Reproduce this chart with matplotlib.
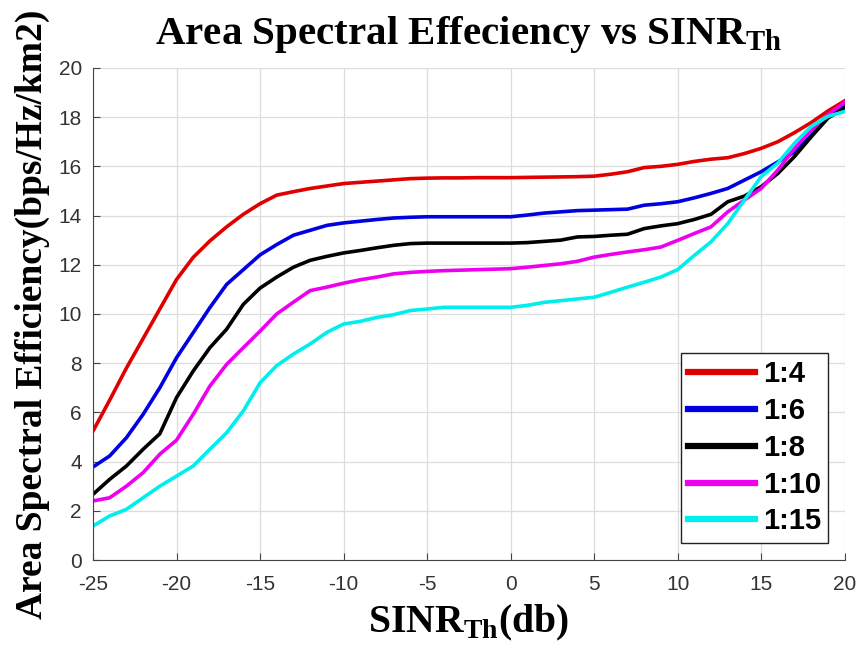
import matplotlib
matplotlib.use('Agg')
import matplotlib.pyplot as plt

plt.rcParams['mathtext.fontset'] = 'custom'
plt.rcParams['mathtext.rm'] = 'Liberation Serif:bold'
plt.rcParams['mathtext.bf'] = 'Liberation Serif:bold'
plt.rcParams['axes.unicode_minus'] = False

# SINR threshold (dB)
sinr = list(range(-25, 21))

# area spectral efficiency per ratio
ase_1_4 = [5.24, 6.5, 7.8, 9.0, 10.2, 11.4, 12.3, 12.97, 13.54, 14.05, 14.48,
           14.83, 14.97, 15.1, 15.2, 15.3, 15.35, 15.4, 15.45, 15.5, 15.52,
           15.53, 15.53, 15.54, 15.54, 15.54, 15.55, 15.56, 15.57, 15.58, 15.6,
           15.68, 15.78, 15.95, 16.0, 16.08, 16.2, 16.29, 16.35, 16.52, 16.73,
           17.0, 17.37, 17.78, 18.25, 18.66]
ase_1_6 = [3.78, 4.23, 4.97, 5.92, 7.0, 8.22, 9.24, 10.26, 11.2, 11.8, 12.4,
           12.82, 13.2, 13.4, 13.6, 13.7, 13.77, 13.84, 13.9, 13.93, 13.95,
           13.95, 13.95, 13.95, 13.95, 13.95, 14.02, 14.1, 14.15, 14.2, 14.22,
           14.24, 14.26, 14.42, 14.48, 14.56, 14.72, 14.9, 15.1, 15.44, 15.78,
           16.18, 16.58, 17.26, 18.0, 18.55]
ase_1_8 = [2.67, 3.28, 3.82, 4.5, 5.13, 6.6, 7.68, 8.63, 9.38, 10.39, 11.05,
           11.5, 11.9, 12.18, 12.34, 12.48, 12.58, 12.69, 12.79, 12.86, 12.88,
           12.88, 12.88, 12.88, 12.88, 12.88, 12.9, 12.95, 13.0, 13.13, 13.15,
           13.2, 13.24, 13.47, 13.58, 13.67, 13.84, 14.05, 14.56, 14.79, 15.17,
           15.71, 16.4, 17.2, 17.96, 18.37]
ase_1_10 = [2.4, 2.53, 3.0, 3.55, 4.3, 4.87, 5.92, 7.07, 7.95, 8.63, 9.3,
            10.0, 10.48, 10.95, 11.09, 11.25, 11.39, 11.5, 11.63, 11.69, 11.73,
            11.76, 11.78, 11.8, 11.82, 11.84, 11.9, 11.97, 12.04, 12.14, 12.31,
            12.42, 12.52, 12.61, 12.72, 12.99, 13.27, 13.54, 14.15, 14.63, 15.1,
            15.85, 16.73, 17.48, 18.1, 18.6]
ase_1_15 = [1.38, 1.79, 2.06, 2.53, 3.0, 3.41, 3.82, 4.5, 5.17, 6.06, 7.2,
            7.9, 8.37, 8.78, 9.25, 9.59, 9.7, 9.86, 9.97, 10.14, 10.2,
            10.27, 10.27, 10.27, 10.27, 10.27, 10.35, 10.47, 10.54, 10.61, 10.68,
            10.88, 11.09, 11.29, 11.5, 11.8, 12.38, 12.93, 13.67, 14.63, 15.58,
            16.13, 16.94, 17.62, 18.03, 18.23]

series = [ase_1_4, ase_1_6, ase_1_8, ase_1_10, ase_1_15]
labels = ['1:4', '1:6', '1:8', '1:10', '1:15']
colors = ['#e00000', '#0000e0', '#000000', '#ee00ee', '#00eeee']

fig = plt.figure(figsize=(8.61, 6.53), dpi=100)
ax = fig.add_axes([0.108, 0.1424, 0.873, 0.7536])

for y, lab, c in zip(series, labels, colors):
    ax.plot(sinr, y, color=c, lw=2.6, label=lab)

ax.set_xlim(-25, 20)
ax.set_ylim(0, 20)
ax.set_xticks(range(-25, 21, 5))
ax.set_yticks(range(0, 21, 2))
ax.grid(True, color='#dddddd', lw=0.9)
ax.set_axisbelow(True)
for s in ['top', 'right']:
    ax.spines[s].set_visible(False)
for s in ['left', 'bottom']:
    ax.spines[s].set_color('#444444')
ax.tick_params(direction='in', length=5, color='#444444', labelsize=15,
               labelcolor='#333333')
ax.tick_params(axis='x', pad=11)
ax.tick_params(axis='y', pad=8)
for t in ax.get_xticklabels() + ax.get_yticklabels():
    t.set_family('Liberation Sans')

ax.set_title(r'Area Spectral Effeciency vs SINR$_{\mathrm{Th}}$',
             family='Liberation Serif', weight='bold', fontsize=29.5, pad=17)
ax.set_xlabel(r'SINR$_{\mathrm{Th}}$(db)', family='Liberation Serif',
              weight='bold', fontsize=28.5, labelpad=6)
ax.set_ylabel('Area Spectral Efficiency(bps/Hz/km2)', family='Liberation Serif',
              weight='bold', fontsize=27, labelpad=6)

leg = ax.legend(loc='lower right', bbox_to_anchor=(0.978, 0.035),
                prop={'family': 'Liberation Sans', 'weight': 'bold', 'size': 21},
                handlelength=2.3, handletextpad=0.25, borderpad=0.25,
                borderaxespad=0, labelspacing=0.3, fancybox=False, framealpha=1)
leg.get_frame().set_edgecolor('#222222')
for line in leg.get_lines():
    line.set_linewidth(4.5)

fig.savefig('out.png', dpi=100)
